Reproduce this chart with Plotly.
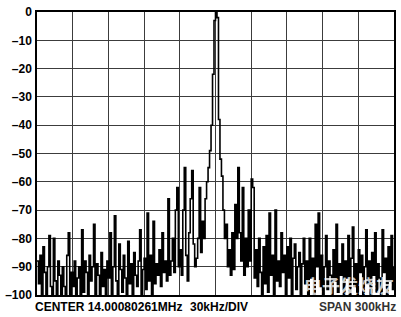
import numpy as np
import plotly.graph_objects as go

# Spectrum trace levels (dBc), read left to right across the 300 kHz span
level_db = [
    -88, -96, -86, -100, -83, -92, -100, -90, -79, -97,
    -100, -80, -95, -100, -88, -93, -100, -90, -97, -100,
    -86, -78, -100, -92, -97, -88, -100, -94, -90, -100,
    -77, -99, -88, -92, -100, -86, -95, -90, -75, -100,
    -89, -93, -100, -85, -97, -91, -100, -88, -94, -78,
    -100, -90, -72, -95, -100, -82, -91, -99, -86, -94,
    -100, -81, -96, -89, -100, -85, -93, -97, -88, -77,
    -100, -91, -87, -98, -71, -95, -86, -100, -74, -96,
    -89, -93, -84, -97, -78, -92, -88, -95, -66, -93,
    -88, -80, -92, -70, -62, -90, -84, -93, -70, -55,
    -86, -95, -78, -66, -56, -82, -90, -87, -80, -62,
    -85, -74, -80, -66, -60, -55, -49, -40, -22, -3,
    0, -2, -38, -52, -58, -70, -80, -75, -90, -84,
    -93, -78, -91, -68, -80, -55, -78, -88, -62, -93,
    -80, -90, -70, -88, -59, -62, -94, -84, -97, -80,
    -92, -100, -83, -96, -79, -99, -71, -93, -86, -100,
    -70, -95, -88, -97, -78, -92, -86, -100, -83, -94,
    -80, -100, -87, -82, -98, -90, -85, -100, -89, -80,
    -96, -88, -100, -80, -94, -87, -100, -75, -90, -71,
    -97, -86, -100, -90, -79, -98, -88, -93, -100, -84,
    -95, -75, -99, -89, -93, -82, -100, -88, -94, -79,
    -100, -87, -76, -97, -89, -100, -84, -92, -86, -100,
    -90, -77, -96, -88, -100, -85, -93, -78, -99, -89,
    -94, -100, -77, -92, -87, -100, -83, -95, -79, -98, -90,
]

span_start_khz = -150
span_stop_khz = 150
freq_khz = np.linspace(span_start_khz, span_stop_khz, len(level_db))

x_grid = [-150, -120, -90, -60, -30, 0, 30, 60, 90, 120, 150]
y_ticks = [0, -10, -20, -30, -40, -50, -60, -70, -80, -90, -100]
y_tick_text = ["0", "–10", "–20", "–30", "–40", "–50", "–60", "–70", "–80", "–90", "–100"]

center_label = "CENTER 14.00080261MHz"
div_label = "30kHz/DIV"
span_label = "SPAN 300kHz"
watermark = "电子发烧友"

font_family = "Liberation Sans, Arial, sans-serif"

fig = go.Figure()
fig.add_trace(go.Scatter(
    x=freq_khz, y=level_db, mode="lines",
    line=dict(color="black", width=1.6, shape="hv"),
    hoverinfo="skip",
))

fig.update_layout(
    width=401, height=317,
    margin=dict(l=35, r=5, t=5, b=22),
    paper_bgcolor="white", plot_bgcolor="white",
    showlegend=False,
    font=dict(family=font_family, color="black", size=12),
    xaxis=dict(
        range=[span_start_khz, span_stop_khz],
        tickvals=x_grid, showticklabels=False, ticks="",
        showgrid=True, gridcolor="#3c3c3c", gridwidth=1,
        showline=True, mirror=True, linecolor="black", linewidth=1.5,
        zeroline=False, fixedrange=True,
    ),
    yaxis=dict(
        range=[-100, 0],
        tickvals=y_ticks, ticktext=y_tick_text, ticks="",
        ticklabelstandoff=1,
        tickfont=dict(family=font_family, size=12, color="black", weight="bold"),
        showgrid=True, gridcolor="#3c3c3c", gridwidth=1,
        showline=True, mirror=True, linecolor="black", linewidth=1.5,
        zeroline=False, fixedrange=True,
    ),
)

bold = dict(family=font_family, size=12, color="black", weight="bold")
fig.add_annotation(text=center_label, xref="paper", yref="paper",
                   x=-0.011, y=-0.041, xanchor="left", yanchor="middle",
                   showarrow=False, font=bold)
fig.add_annotation(text=div_label, xref="paper", yref="paper",
                   x=0.424, y=-0.041, xanchor="left", yanchor="middle",
                   showarrow=False, font=bold)
fig.add_annotation(text=span_label, xref="paper", yref="paper",
                   x=1.011, y=-0.041, xanchor="right", yanchor="middle",
                   showarrow=False, font=dict(family=font_family, size=12, color="#333333", weight="bold"))
fig.add_annotation(text=watermark, xref="paper", yref="paper",
                   x=0.873, y=0.034, xanchor="center", yanchor="middle",
                   showarrow=False,
                   font=dict(family="Noto Sans CJK SC", size=18, color="rgba(255,255,255,0.8)", weight="bold"))

fig.write_html("out.html")
